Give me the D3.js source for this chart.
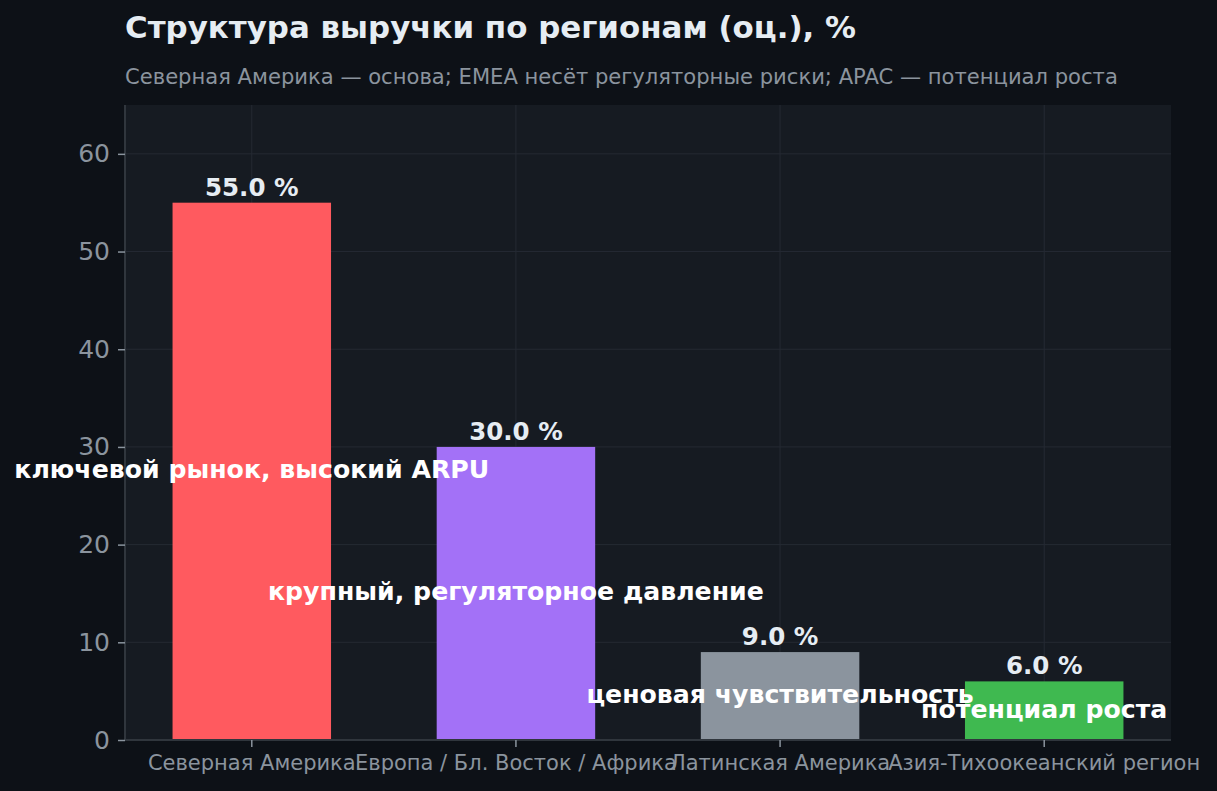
<!DOCTYPE html>
<html>
<head>
<meta charset="utf-8">
<script src="https://cdn.jsdelivr.net/npm/d3@7/dist/d3.min.js"></script>
<style>
  html, body { margin: 0; padding: 0; background: #0d1117; }
  svg { display: block; }
  text { font-family: "DejaVu Sans", sans-serif; }
</style>
</head>
<body>
<svg id="chart" width="1217" height="791"></svg>
<script>
const categories = ["Северная Америка", "Европа / Бл. Восток / Африка", "Латинская Америка", "Азия-Тихоокеанский регион"];
const shares = [55.0, 30.0, 9.0, 6.0];
const notes = ["ключевой рынок, высокий ARPU", "крупный, регуляторное давление", "ценовая чувствительность", "потенциал роста"];
const barColors = ["#ff5a5f", "#a371f7", "#8b949e", "#3fb950"];
const yTicks = [0, 10, 20, 30, 40, 50, 60];
const titleText = "Структура выручки по регионам (оц.), %";
const subtitleText = "Северная Америка — основа; EMEA несёт регуляторные риски; APAC — потенциал роста";

const W = 1217, H = 791;
const m = { left: 125, right: 1171, top: 105, bottom: 740 };

const svg = d3.select("#chart");
svg.append("rect").attr("width", W).attr("height", H).attr("fill", "#0d1117");

const x = d3.scaleBand().domain(categories).range([m.left, m.right]).paddingInner(0.4).paddingOuter(0.18);
const y = d3.scaleLinear().domain([0, 65]).range([m.bottom, m.top]);

// plot background
svg.append("rect").attr("x", m.left).attr("y", m.top)
  .attr("width", m.right - m.left).attr("height", m.bottom - m.top).attr("fill", "#161b22");

// grid
const grid = svg.append("g");
grid.selectAll("line.h").data(yTicks).join("line")
  .attr("x1", m.left).attr("x2", m.right)
  .attr("y1", d => y(d)).attr("y2", d => y(d))
  .attr("stroke", "#252a33").attr("stroke-width", 1);
grid.selectAll("line.v").data(categories).join("line")
  .attr("x1", d => x(d) + x.bandwidth() / 2).attr("x2", d => x(d) + x.bandwidth() / 2)
  .attr("y1", m.top).attr("y2", m.bottom)
  .attr("stroke", "#252a33").attr("stroke-width", 1);

// bars
svg.append("g").selectAll("rect").data(categories).join("rect")
  .attr("x", d => x(d)).attr("width", x.bandwidth())
  .attr("y", (d, i) => y(shares[i])).attr("height", (d, i) => y(0) - y(shares[i]))
  .attr("fill", (d, i) => barColors[i]);

// axes
const yAxis = svg.append("g").attr("transform", `translate(${m.left},0)`)
  .call(d3.axisLeft(y).tickValues(yTicks).tickSize(7).tickPadding(8).tickFormat(d3.format("d")));
const xAxis = svg.append("g").attr("transform", `translate(0,${m.bottom})`)
  .call(d3.axisBottom(x).tickSize(7).tickPadding(8));
[yAxis, xAxis].forEach(a => {
  a.select(".domain").attr("stroke", "#30363d").attr("stroke-width", 2);
  a.selectAll(".tick line").attr("stroke", "#8b949e").attr("stroke-width", 1.5);
  a.selectAll(".tick text").attr("fill", "#8b949e").style("font-family", "DejaVu Sans");
});
yAxis.select(".domain").attr("d", `M0,${m.top}V${m.bottom}`);
xAxis.select(".domain").attr("d", `M${m.left},0H${m.right}`);
yAxis.selectAll(".tick text").style("font-size", "25px");
xAxis.selectAll(".tick text").style("font-size", "21px").attr("dy", "0.71em");

// value labels
svg.append("g").selectAll("text").data(categories).join("text")
  .attr("x", d => x(d) + x.bandwidth() / 2)
  .attr("y", (d, i) => y(shares[i]) - 7)
  .attr("text-anchor", "middle")
  .attr("fill", "#e6edf3").attr("font-weight", "bold").attr("font-size", "24.5px")
  .text((d, i) => shares[i].toFixed(1) + " %");

// notes
svg.append("g").selectAll("text").data(categories).join("text")
  .attr("x", d => x(d) + x.bandwidth() / 2)
  .attr("y", (d, i) => y(shares[i] / 2) + 7)
  .attr("text-anchor", "middle")
  .attr("fill", "#ffffff").attr("font-weight", "bold").attr("font-size", "25.2px")
  .text((d, i) => notes[i]);

// titles
svg.append("text").attr("x", m.left).attr("y", 38)
  .attr("fill", "#e6edf3").attr("font-weight", "bold").attr("font-size", "30.9px")
  .text(titleText);
svg.append("text").attr("x", m.left).attr("y", 84)
  .attr("fill", "#8b949e").attr("font-size", "21.1px")
  .text(subtitleText);
</script>
</body>
</html>
